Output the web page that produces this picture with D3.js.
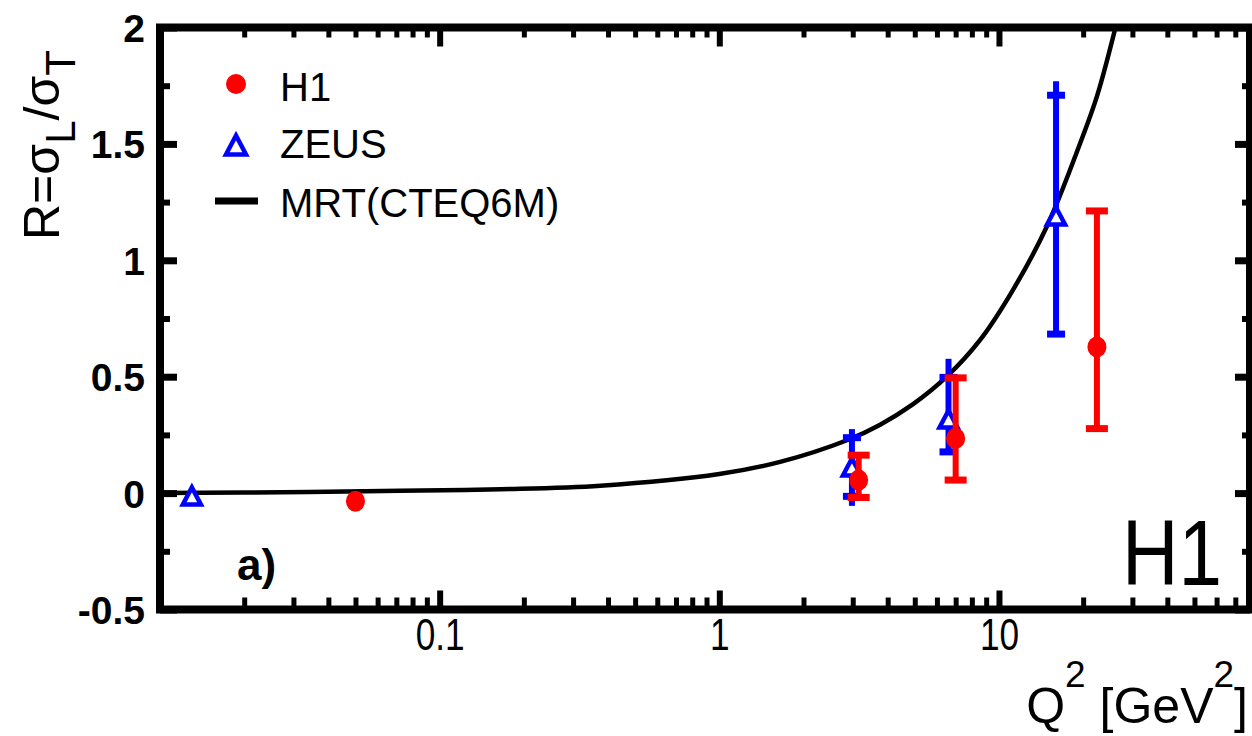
<!DOCTYPE html>
<html>
<head>
<meta charset="utf-8">
<script src="https://cdn.jsdelivr.net/npm/d3@7"></script>
<style>
  html, body { margin: 0; padding: 0; background: #fff; }
  svg { display: block; }
  text { font-family: "Liberation Sans", Arial, Helvetica, sans-serif; fill: #000; }
</style>
</head>
<body>
<svg id="chart" width="1252" height="736"></svg>
<script>
// ---- data ----
// H1 measurements of R = sigma_L / sigma_T
const h1Q2   = [0.05, 3.15, 7.0, 22.4];
const h1R    = [-0.035, 0.056, 0.235, 0.628];
const h1ErrUp = [0, 0.107, 0.26, 0.584];
const h1ErrDn = [0, 0.075, 0.179, 0.351];

// ZEUS measurements (statistical errors with caps, total errors as the bar extent)
const zeusQ2 = [0.013, 2.98, 6.6, 16.0];
const zeusR  = [-0.012, 0.112, 0.318, 1.19];
const zeusStatUp = [0, 0.126, 0.179, 0.519];
const zeusStatDn = [0, 0.126, 0.141, 0.507];
const zeusTotUp  = [0, 0.15, 0.246, 0.566];
const zeusTotDn  = [0, 0.154, 0.141, 0.507];

// MRT (CTEQ6M) prediction
const mrtQ2 = [0.01, 0.034, 0.072, 0.165, 0.376, 1.0, 1.65, 2.86, 3.76, 4.93, 6.5, 8.55, 11.2, 14.8, 19.5, 22.4, 26.1];
const mrtR  = [0.0, 0.005, 0.01, 0.017, 0.032, 0.082, 0.134, 0.227, 0.294, 0.382, 0.5, 0.657, 0.871, 1.143, 1.502, 1.704, 2.0];

// axis ticks
const xTicks = [0.1, 1, 10];
const xTickLabels = ["0.1", "1", "10"];
const xMinorTicks = [0.02,0.03,0.04,0.05,0.06,0.07,0.08,0.09,
                     0.2,0.3,0.4,0.5,0.6,0.7,0.8,0.9,
                     2,3,4,5,6,7,8,9,
                     20,30,40,50,60,70];
const yTicks = [-0.5, 0, 0.5, 1, 1.5, 2];
const yTickLabels = ["-0.5", "0", "0.5", "1", "1.5", "2"];
const yMinorTicks = [-0.25, 0.25, 0.75, 1.25, 1.75];

// legend
const legendNames = ["H1", "ZEUS", "MRT(CTEQ6M)"];

// ---- layout ----
const L = 160, R = 1250, T = 27.5, B = 609.5;
const RED = "#ff0000", BLUE = "#0000ff";

const x = d3.scaleLog().domain([0.01, 79]).range([L, R]);
const y = d3.scaleLinear().domain([-0.5, 2]).range([B, T]);

const svg = d3.select("#chart");

svg.append("defs").append("clipPath").attr("id", "plotclip")
  .append("rect").attr("x", L).attr("y", T).attr("width", R - L).attr("height", B - T);

// ---- curve ----
const curvePts = mrtQ2.map((q, i) => [q, mrtR[i]]);
svg.append("path")
  .datum(curvePts)
  .attr("clip-path", "url(#plotclip)")
  .attr("fill", "none")
  .attr("stroke", "#000")
  .attr("stroke-width", 4.5)
  .attr("d", d3.line().x(d => x(d[0])).y(d => y(d[1])).curve(d3.curveCatmullRom.alpha(0.5)));

// ---- markers ----
const triPath = (w, h) => `M0,${-h/2}L${w/2},${h/2}L${-w/2},${h/2}Z`;

function capLine(g, cx, v, half, color) {
  g.append("line")
    .attr("x1", cx - half).attr("x2", cx + half)
    .attr("y1", y(v)).attr("y2", y(v))
    .attr("stroke", color).attr("stroke-width", 7);
}

// ZEUS
const zg = svg.append("g");
zeusQ2.forEach((q, i) => {
  const cx = x(q);
  if (zeusTotUp[i] > 0 || zeusTotDn[i] > 0) {
    zg.append("line")
      .attr("x1", cx).attr("x2", cx)
      .attr("y1", y(zeusR[i] + zeusTotUp[i])).attr("y2", y(zeusR[i] - zeusTotDn[i]))
      .attr("stroke", BLUE).attr("stroke-width", 6).attr("stroke-linecap", "square");
    capLine(zg, cx, zeusR[i] + zeusStatUp[i], 9, BLUE);
    capLine(zg, cx, zeusR[i] - zeusStatDn[i], 9, BLUE);
  }
  zg.append("path")
    .attr("d", triPath(18, 17))
    .attr("transform", `translate(${cx},${y(zeusR[i])})`)
    .attr("fill", "#fff").attr("stroke", BLUE).attr("stroke-width", 4.5)
    .attr("stroke-linejoin", "miter");
});

// H1
const hg = svg.append("g");
h1Q2.forEach((q, i) => {
  const cx = x(q);
  if (h1ErrUp[i] > 0 || h1ErrDn[i] > 0) {
    hg.append("line")
      .attr("x1", cx).attr("x2", cx)
      .attr("y1", y(h1R[i] + h1ErrUp[i])).attr("y2", y(h1R[i] - h1ErrDn[i]))
      .attr("stroke", RED).attr("stroke-width", 6).attr("stroke-linecap", "square");
    capLine(hg, cx, h1R[i] + h1ErrUp[i], 11, RED);
    capLine(hg, cx, h1R[i] - h1ErrDn[i], 11, RED);
  }
  hg.append("ellipse")
    .attr("cx", cx).attr("cy", y(h1R[i]))
    .attr("rx", 9.5).attr("ry", 10.5)
    .attr("fill", RED);
});

// ---- axes ----
function styleTicks(g, width) {
  g.select(".domain").remove();
  g.selectAll(".tick line").attr("stroke", "#000").attr("stroke-width", width);
}

// bottom
const gxMinor = svg.append("g").attr("transform", `translate(0,${B})`)
  .call(d3.axisBottom(x).tickValues(xMinorTicks).tickSize(-12).tickFormat(""));
styleTicks(gxMinor, 5);
const gx = svg.append("g").attr("transform", `translate(0,${B})`)
  .call(d3.axisBottom(x).tickValues(xTicks).tickSize(-19)
        .tickFormat((d, i) => xTickLabels[i]).tickPadding(0));
styleTicks(gx, 6);
gx.selectAll(".tick text")
  .attr("y", 41).attr("dy", null)
  .attr("transform", "scale(0.8,1)")
  .style("font-size", "44px").style("font-family", null);

// top
const gtMinor = svg.append("g").attr("transform", `translate(0,${T})`)
  .call(d3.axisTop(x).tickValues(xMinorTicks).tickSize(-10).tickFormat(""));
styleTicks(gtMinor, 5);
const gt = svg.append("g").attr("transform", `translate(0,${T})`)
  .call(d3.axisTop(x).tickValues(xTicks).tickSize(-19).tickFormat(""));
styleTicks(gt, 6);

// left
const gyMinor = svg.append("g").attr("transform", `translate(${L},0)`)
  .call(d3.axisLeft(y).tickValues(yMinorTicks).tickSize(-10).tickFormat(""));
styleTicks(gyMinor, 6);
const gy = svg.append("g").attr("transform", `translate(${L},0)`)
  .call(d3.axisLeft(y).tickValues(yTicks).tickSize(-17)
        .tickFormat((d, i) => yTickLabels[i]).tickPadding(0));
styleTicks(gy, 7);
gy.selectAll(".tick text")
  .attr("x", -15).attr("dy", null).attr("y", 14)
  .style("font-size", "39px").style("font-weight", "bold").style("font-family", null);

// right
const grMinor = svg.append("g").attr("transform", `translate(${R},0)`)
  .call(d3.axisRight(y).tickValues(yMinorTicks).tickSize(-8).tickFormat(""));
styleTicks(grMinor, 6);
const gr = svg.append("g").attr("transform", `translate(${R},0)`)
  .call(d3.axisRight(y).tickValues(yTicks).tickSize(-15).tickFormat(""));
styleTicks(gr, 7);

// frame
svg.append("rect")
  .attr("x", L).attr("y", T).attr("width", R - L).attr("height", B - T)
  .attr("fill", "none").attr("stroke", "#000").attr("stroke-width", 8);

// ---- axis titles ----
const xt = svg.append("text")
  .attr("x", 1248).attr("y", 723).attr("text-anchor", "end")
  .style("font-size", "50px");
xt.append("tspan").text("Q");
xt.append("tspan").attr("dy", -36).style("font-size", "37px").text("2");
xt.append("tspan").attr("dy", 36).text(" [GeV");
xt.append("tspan").attr("dy", -36).style("font-size", "37px").text("2");
xt.append("tspan").attr("dy", 36).text("]");

const yt = svg.append("text")
  .attr("transform", "translate(59,240) rotate(-90)")
  .attr("text-anchor", "start")
  .style("font-size", "50px");
yt.append("tspan").text("R=σ");
yt.append("tspan").attr("dy", 16).style("font-size", "42px").text("L");
yt.append("tspan").attr("dy", -16).text("/σ");
yt.append("tspan").attr("dy", 16).style("font-size", "42px").text("T");

// ---- legend ----
const lg = svg.append("g");
lg.append("circle").attr("cx", 236).attr("cy", 84).attr("r", 10).attr("fill", RED);
lg.append("path").attr("d", triPath(20, 19)).attr("transform", "translate(236,145)")
  .attr("fill", "#fff").attr("stroke", BLUE).attr("stroke-width", 4.5);
lg.append("line").attr("x1", 215).attr("x2", 258).attr("y1", 201).attr("y2", 201)
  .attr("stroke", "#000").attr("stroke-width", 7);
const legendY = [101, 158, 217];
legendNames.forEach((n, i) => {
  lg.append("text").attr("x", 280).attr("y", legendY[i]).style("font-size", "40px").text(n);
});

// ---- panel labels ----
svg.append("text").attr("x", 237).attr("y", 580)
  .style("font-size", "44px").style("font-weight", "bold").text("a)");
svg.append("text").attr("transform", "translate(1222,585) scale(0.85,1)")
  .attr("text-anchor", "end").style("font-size", "92px").text("H1");
</script>
</body>
</html>
